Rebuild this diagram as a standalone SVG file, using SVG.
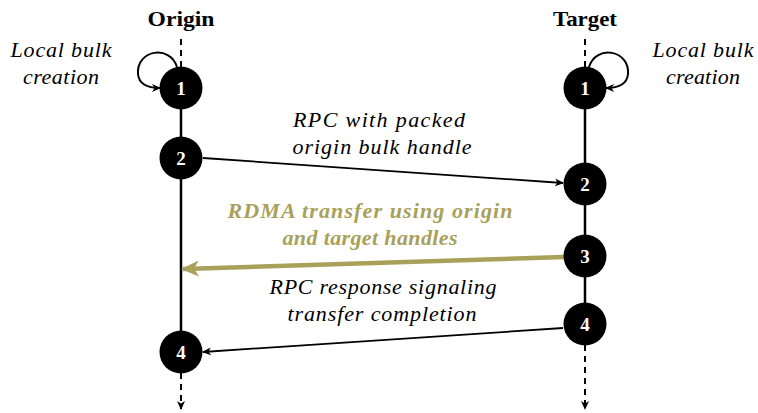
<svg xmlns="http://www.w3.org/2000/svg" width="758" height="413" viewBox="0 0 758 413">
<defs>
<marker id="ah" markerWidth="10" markerHeight="10" refX="8" refY="5" orient="auto" markerUnits="userSpaceOnUse"><path d="M0,1 L9,5 L0,9 L2.5,5 Z" fill="#000"/></marker>
<marker id="ahg" markerWidth="20" markerHeight="16" refX="16" refY="8" orient="auto" markerUnits="userSpaceOnUse"><path d="M0,0 L18,8 L0,16 L5,8 Z" fill="#a9a05a"/></marker>
<style>
text{font-family:'Liberation Serif','Times New Roman',serif}
.t{font-size:22px;fill:#000}
.i{font-style:italic}
.b{font-weight:bold}
.g{fill:#a9a05a}
.n circle{fill:#000}
.n text{font-size:19px;font-weight:bold;fill:#fff;text-anchor:middle}
.life{stroke:#000;stroke-width:2.5;fill:none}
.dash{stroke:#000;stroke-width:2;stroke-dasharray:6,5;fill:none}
</style>
</defs>
<g id="lifelines">
<line class="dash" x1="181" y1="39" x2="181" y2="68"/>
<line class="life" x1="181" y1="88" x2="181" y2="352"/>
<line class="dash" x1="181" y1="373" x2="181" y2="409" marker-end="url(#ah)"/>
<line class="dash" x1="585" y1="39" x2="585" y2="68"/>
<line class="life" x1="585" y1="88" x2="585" y2="324"/>
<line class="dash" x1="585" y1="345" x2="585" y2="409" marker-end="url(#ah)"/>
</g>
<g id="titles">
<text class="t b" x="181" y="26" text-anchor="middle" textLength="67" lengthAdjust="spacingAndGlyphs">Origin</text>
<text class="t b" x="585" y="26" text-anchor="middle" textLength="64" lengthAdjust="spacingAndGlyphs">Target</text>
</g>
<g id="connectors" fill="none">
<path d="M177,67 C170,44 136,50 138,74 C139,85 148,88 160,88" stroke="#000" stroke-width="2" marker-end="url(#ah)"/>
<path d="M589,67 C596,44 630,50 628,74 C627,85 618,88 606,88" stroke="#000" stroke-width="2" marker-end="url(#ah)"/>
<line x1="203" y1="158" x2="563" y2="183" stroke="#000" stroke-width="1.8" marker-end="url(#ah)"/>
<line x1="564" y1="257" x2="183" y2="269" stroke="#a9a05a" stroke-width="4.5" marker-end="url(#ahg)"/>
<line x1="563" y1="328" x2="203" y2="352" stroke="#000" stroke-width="1.8" marker-end="url(#ah)"/>
</g>
<g id="labels">
<text class="t i" x="61" y="57" text-anchor="middle" textLength="101" lengthAdjust="spacing">Local bulk</text>
<text class="t i" x="61" y="84" text-anchor="middle" textLength="76" lengthAdjust="spacing">creation</text>
<text class="t i" x="703" y="57" text-anchor="middle" textLength="101" lengthAdjust="spacing">Local bulk</text>
<text class="t i" x="703" y="84" text-anchor="middle" textLength="74" lengthAdjust="spacing">creation</text>
<text class="t i" x="379" y="127" text-anchor="middle" textLength="172" lengthAdjust="spacing">RPC with packed</text>
<text class="t i" x="382" y="154" text-anchor="middle" textLength="179" lengthAdjust="spacing">origin bulk handle</text>
<text class="t i b g" x="370" y="218" text-anchor="middle" textLength="285" lengthAdjust="spacing">RDMA transfer using origin</text>
<text class="t i b g" x="370" y="245" text-anchor="middle" textLength="175" lengthAdjust="spacing">and target handles</text>
<text class="t i" x="383" y="294" text-anchor="middle" textLength="227" lengthAdjust="spacing">RPC response signaling</text>
<text class="t i" x="382" y="321" text-anchor="middle" textLength="189" lengthAdjust="spacing">transfer completion</text>
</g>
<g id="o1" class="n"><circle cx="181" cy="88" r="21.5"/><text x="181" y="95">1</text></g>
<g id="o2" class="n"><circle cx="181" cy="158" r="21.5"/><text x="181" y="165">2</text></g>
<g id="o4" class="n"><circle cx="181" cy="352" r="21.5"/><text x="181" y="359">4</text></g>
<g id="t1" class="n"><circle cx="585" cy="88" r="21.5"/><text x="585" y="95">1</text></g>
<g id="t2" class="n"><circle cx="585" cy="184" r="21.5"/><text x="585" y="191">2</text></g>
<g id="t3" class="n"><circle cx="585" cy="256" r="21.5"/><text x="585" y="263">3</text></g>
<g id="t4" class="n"><circle cx="585" cy="324" r="21.5"/><text x="585" y="331">4</text></g>
</svg>
